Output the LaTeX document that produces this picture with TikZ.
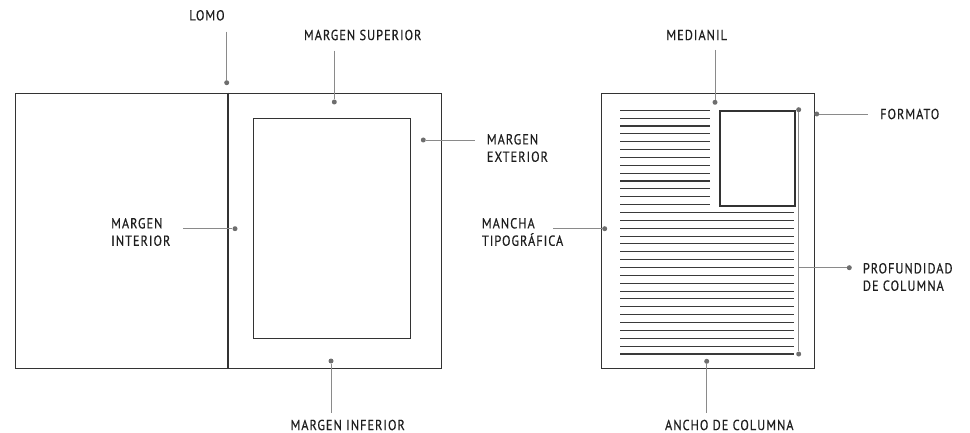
\documentclass[tikz,border=0pt]{standalone}
\usepackage{fontspec}
\setmainfont{PT Sans}[LetterSpace=7, FakeStretch=0.85, FakeBold=0.4]
\definecolor{framec}{HTML}{333333}
\definecolor{leadc}{HTML}{8A8A8A}
\definecolor{dotc}{HTML}{6E6E6E}
\definecolor{txtc}{HTML}{1E1E1E}
\definecolor{rulec}{HTML}{3A3A3A}
\tikzset{
  frame/.style={draw=framec, line width=1.1pt},
  lead/.style={draw=leadc, line width=0.9pt},
  dotmark/.style={circle, fill=dotc, inner sep=0pt, minimum size=5pt},
  lbl/.style={font=\fontsize{14.5}{17.4}\selectfont, text=txtc, inner sep=0pt, align=left},
  textrule/.style={draw=rulec, line width=1.1pt},
}
\begin{document}
\begin{tikzpicture}[x=1pt,y=-1pt]
\useasboundingbox (0,0) rectangle (970,433);
% left spread
\node[frame, minimum width=425.4pt, minimum height=275pt, inner sep=0pt, anchor=north west] (spread) at (15.3,92.7) {};
\coordinate (spinetop) at (228,92.7);
\coordinate (spinebot) at (228,367.7);
\draw[frame] (spinetop) -- (spinebot);
\node[frame, minimum width=157pt, minimum height=220pt, inner sep=0pt, anchor=north west] (block) at (252.7,118.3) {};
% right page
\node[frame, minimum width=212.7pt, minimum height=275pt, inner sep=0pt, anchor=north west] (page) at (601.3,92.7) {};
\foreach \i in {0,...,12} {
  \draw[textrule] (620,110.3+\i*7.86) -- (710,110.3+\i*7.86);
}
\foreach \i in {13,...,31} {
  \draw[textrule] (620,110.3+\i*7.86) -- (793.7,110.3+\i*7.86);
}
\node[draw=framec, line width=1.8pt, minimum width=74.7pt, minimum height=94.7pt, inner sep=0pt, anchor=north west] (img) at (719,110.3) {};

% labels
\node[lbl] (lomo) at (207,15.3) {LOMO};
\node[lbl] (msup) at (362.7,35) {MARGEN SUPERIOR};
\node[lbl, anchor=west] (mext) at (486.7,148) {MARGEN\\EXTERIOR};
\node[lbl, anchor=west] (mint) at (111,232) {MARGEN\\INTERIOR};
\node[lbl] (minf) at (347.7,425) {MARGEN INFERIOR};
\node[lbl] (medi) at (696.7,35) {MEDIANIL};
\node[lbl, anchor=west] (form) at (880,114) {FORMATO};
\node[lbl, anchor=west] (manc) at (481.7,232) {MANCHA\\TIPOGRÁFICA};
\node[lbl, anchor=west] (prof) at (862.7,277) {PROFUNDIDAD\\DE COLUMNA};
\node[lbl] (anch) at (729.3,425) {ANCHO DE COLUMNA};

% dots
\node[dotmark] (dlomo) at (226.7,82.7) {};
\node[dotmark] (dmsup) at (334.3,102) {};
\node[dotmark] (dmext) at (423.3,140) {};
\node[dotmark] (dmint) at (235,228.7) {};
\node[dotmark] (dminf) at (331,361) {};
\node[dotmark] (dmedi) at (715,102.3) {};
\node[dotmark] (dform) at (816.7,114) {};
\node[dotmark] (dmanc) at (604.7,228.7) {};
\node[dotmark] (dproft) at (798.7,109.7) {};
\node[dotmark] (dprofb) at (798.7,354) {};
\node[dotmark] (dprof) at (849.3,267.7) {};
\node[dotmark] (danch) at (706.7,361.3) {};

% leader ends
\coordinate (elomo) at (226.7,31.7);
\coordinate (emsup) at (334.3,50.7);
\coordinate (emext) at (475,140);
\coordinate (emint) at (183.3,228.7);
\coordinate (eminf) at (331,413);
\coordinate (emedi) at (715,50);
\coordinate (eform) at (868.3,114);
\coordinate (emanc) at (553.3,228.7);
\coordinate (eprof) at (798.7,267.7);
\coordinate (eanch) at (706.7,413);

\draw[lead] (elomo) -- (dlomo);
\draw[lead] (emsup) -- (dmsup);
\draw[lead] (dmext) -- (emext);
\draw[lead] (emint) -- (dmint);
\draw[lead] (dminf) -- (eminf);
\draw[lead] (emedi) -- (dmedi);
\draw[lead] (dform) -- (eform);
\draw[lead] (emanc) -- (dmanc);
\draw[lead] (dproft) -- (dprofb);
\draw[lead] (eprof) -- (dprof);
\draw[lead] (danch) -- (eanch);
\end{tikzpicture}
\end{document}
